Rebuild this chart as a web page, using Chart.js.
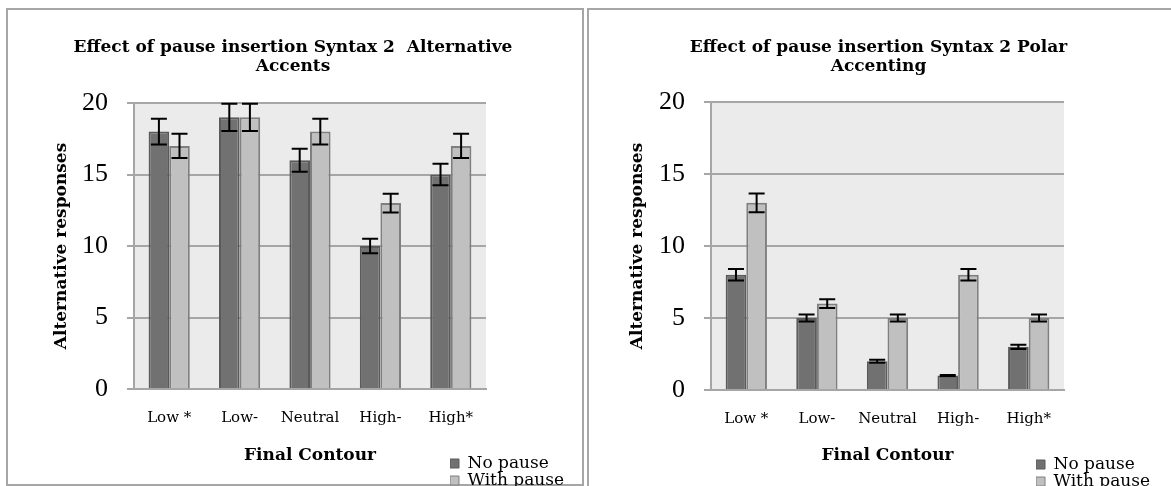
<!DOCTYPE html>
<html>
<head>
<meta charset="utf-8">
<script src="https://cdn.jsdelivr.net/npm/chart.js@4.4.1/dist/chart.umd.min.js"></script>
<style>
  html, body { margin: 0; padding: 0; background: #fff; width: 1171px; height: 486px; overflow: hidden; }
  .frame { position: absolute; box-sizing: border-box; border: 2px solid #a6a6a6; }
  #f1 { left: 6px; top: 8px; width: 578px; height: 478px; }
  #f2 { left: 587px; top: 8px; width: 700px; height: 600px; }
  .wrap { position: absolute; top: 0; height: 486px; }
  .wrap canvas { display: block; }
  #w1 { left: 0; width: 586px; }
  #w2 { left: 586px; width: 585px; }
</style>
</head>
<body>
<div class="frame" id="f1"></div>
<div class="frame" id="f2"></div>
<div class="wrap" id="w1"><canvas id="c1" width="586" height="486"></canvas></div>
<div class="wrap" id="w2"><canvas id="c2" width="585" height="486"></canvas></div>
<script>
// Categories, series and axis ticks
const categories = ['Low *', 'Low-', 'Neutral', 'High-', 'High*'];
const seriesNames = ['No pause', 'With pause'];
const yTicks = [0, 5, 10, 15, 20];

// Alternative Accents
const accentsNoPause = [18, 19, 16, 10, 15];
const accentsWithPause = [17, 19, 18, 13, 17];
const accentsNoPauseErr = [0.9, 0.95, 0.8, 0.5, 0.75];
const accentsWithPauseErr = [0.85, 0.95, 0.9, 0.65, 0.85];

// Polar Accenting
const polarNoPause = [8, 5, 2, 1, 3];
const polarWithPause = [13, 6, 5, 8, 5];
const polarNoPauseErr = [0.4, 0.25, 0.1, 0.05, 0.15];
const polarWithPauseErr = [0.65, 0.3, 0.25, 0.4, 0.25];

const titleAccents = ['Effect of pause insertion Syntax 2  Alternative', 'Accents'];
const titlePolar = ['Effect of pause insertion Syntax 2 Polar', 'Accenting'];

const SERIF = 'DejaVu Serif';
const NUM_FONT = 'Liberation Serif';

// Grey plot background behind the bars
const plotBackground = {
  id: 'plotBackground',
  beforeDraw(chart, args, opts) {
    const a = chart.chartArea;
    const ctx = chart.ctx;
    ctx.save();
    ctx.fillStyle = opts.color;
    ctx.fillRect(a.left, a.top, a.right - a.left, a.bottom - a.top);
    ctx.restore();
  }
};

// Whiskers with caps at value +/- error
const errorBars = {
  id: 'errorBars',
  afterDatasetsDraw(chart, args, opts) {
    const ctx = chart.ctx;
    const y = chart.scales.y;
    chart.data.datasets.forEach((ds, di) => {
      const meta = chart.getDatasetMeta(di);
      meta.data.forEach((bar, i) => {
        const v = ds.data[i], e = ds.errors[i];
        const top = y.getPixelForValue(v + e);
        const bot = y.getPixelForValue(v - e);
        const h = opts.cap / 2;
        ctx.save();
        ctx.strokeStyle = opts.color;
        ctx.lineWidth = opts.width;
        ctx.beginPath();
        ctx.moveTo(bar.x, top); ctx.lineTo(bar.x, bot);
        ctx.moveTo(bar.x - h, top); ctx.lineTo(bar.x + h, top);
        ctx.moveTo(bar.x - h, bot); ctx.lineTo(bar.x + h, bot);
        ctx.stroke();
        ctx.restore();
      });
    });
  }
};

// Put the legend under the plot, next to the x axis title
const legendPlacement = {
  id: 'legendPlacement',
  afterLayout(chart, args, opts) {
    const lg = chart.legend;
    if (!lg) return;
    lg.left = opts.x; lg.top = opts.y;
    lg.width = 140; lg.height = 60;
    lg.right = opts.x + 140; lg.bottom = opts.y + 60;
  }
};

function makeChart(canvasId, cfg) {
  const datasets = [
    { label: seriesNames[0], data: cfg.noPause, errors: cfg.noPauseErr,
      backgroundColor: '#717171', borderColor: '#5a5a5a', borderWidth: 2 },
    { label: seriesNames[1], data: cfg.withPause, errors: cfg.withPauseErr,
      backgroundColor: '#c0c0c0', borderColor: '#7f7f7f', borderWidth: 2 }
  ];
  return new Chart(document.getElementById(canvasId), {
    type: 'bar',
    data: { labels: categories, datasets },
    plugins: [plotBackground, errorBars, legendPlacement],
    options: {
      responsive: false,
      animation: false,
      events: [],
      layout: { padding: 0 },
      datasets: { bar: { categoryPercentage: 0.585, barPercentage: 1 } },
      plugins: {
        plotBackground: { color: '#ebebeb' },
        errorBars: { color: '#000', width: 2, cap: 16 },
        legendPlacement: { x: cfg.legendX, y: cfg.legendY },
        tooltip: { enabled: false },
        title: {
          display: true, text: cfg.title, color: '#000',
          font: { family: SERIF, size: 17, weight: 'bold', lineHeight: '19px' },
          padding: { top: 38, bottom: cfg.titleGap }
        },
        legend: {
          position: 'right', align: 'start', maxWidth: cfg.legendWidth,
          labels: {
            color: '#000', boxWidth: 9, boxHeight: 9, padding: 0,
            font: { family: SERIF, size: 17 },
            generateLabels: (chart) => Chart.defaults.plugins.legend.labels
              .generateLabels(chart).map(l => Object.assign(l, { lineWidth: 1 }))
          }
        }
      },
      scales: {
        x: {
          grid: { display: false },
          border: { display: true, color: '#a6a6a6', width: 2 },
          ticks: { color: '#000', padding: 12, maxRotation: 0, autoSkip: false,
                   font: { family: SERIF, size: 15 } },
          title: { display: true, text: 'Final Contour', color: '#000',
                   font: { family: SERIF, size: 17, weight: 'bold', lineHeight: 1.2 },
                   padding: { top: 0, bottom: 20 } },
          afterFit: (s) => { s.height = cfg.xHeight; }
        },
        y: {
          min: 0, max: 20,
          afterBuildTicks: (s) => { s.ticks = yTicks.map(v => ({ value: v })); },
          grid: { color: '#a6a6a6', lineWidth: 2, tickLength: 7, drawTicks: true },
          border: { display: true, color: '#a6a6a6', width: 2 },
          ticks: { color: '#000', padding: 19, font: { family: NUM_FONT, size: 26 } },
          title: { display: true, text: 'Alternative responses', color: '#000',
                   font: { family: SERIF, size: 17, weight: 'bold', lineHeight: 1.2 },
                   padding: { top: cfg.yTitlePad, bottom: 0 } },
          afterFit: (s) => { s.width = cfg.yWidth; }
        }
      }
    }
  });
}

makeChart('c1', {
  title: titleAccents, titleGap: 27,
  noPause: accentsNoPause, withPause: accentsWithPause,
  noPauseErr: accentsNoPauseErr, withPauseErr: accentsWithPauseErr,
  yWidth: 134, yTitlePad: 51, xHeight: 97, legendWidth: 100,
  legendX: 450, legendY: 455
});

makeChart('c2', {
  title: titlePolar, titleGap: 26,
  noPause: polarNoPause, withPause: polarWithPause,
  noPauseErr: polarNoPauseErr, withPauseErr: polarWithPauseErr,
  yWidth: 125, yTitlePad: 41, xHeight: 96, legendWidth: 107,
  legendX: 450, legendY: 456
});
</script>
</body>
</html>
